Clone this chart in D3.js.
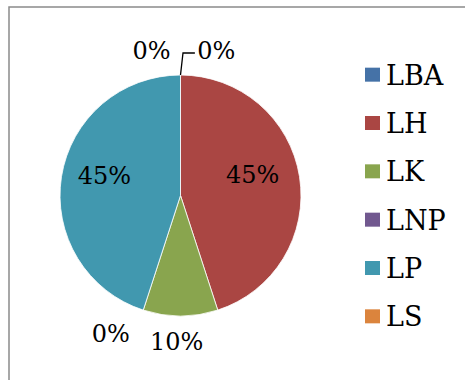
<!DOCTYPE html>
<html>
<head>
<meta charset="utf-8">
<script src="https://cdn.jsdelivr.net/npm/d3@7/dist/d3.min.js"></script>
<style>
  html, body { margin: 0; padding: 0; background: #fff; }
  svg { display: block; }
  svg text { font-family: "DejaVu Serif", serif; }
</style>
</head>
<body>
<svg id="chart" width="465" height="380"></svg>
<script>
// Share of each category (percent)
const categories = ["LBA", "LH", "LK", "LNP", "LP", "LS"];
const values = [0, 45, 10, 0, 45, 0];
const colors = ["#4572A7", "#AA4643", "#89A54E", "#71588F", "#4198AF", "#DB843D"];

// Label placement around the pie: [angle in degrees from 12 o'clock, distance from centre]
const labelPolar = {
  LBA: [13.9, 149.4],
  LH:  [74, 75],
  LK:  [181.5, 146],
  LNP: [206.8, 154.6],
  LP:  [285, 78.7],
  LS:  [348.7, 147.9]
};

const svg = d3.select("#chart");
const cx = 180.5, cy = 195.5, R = 120.5;

// Chart frame (runs past the right and bottom edges)
svg.append("rect")
  .attr("x", 9).attr("y", 7)
  .attr("width", 480).attr("height", 400)
  .attr("fill", "none")
  .attr("stroke", "#8a8a8a")
  .attr("stroke-width", 1.5);

const data = categories.map((c, i) => ({ cat: c, value: values[i], color: colors[i] }));

const pie = d3.pie().sort(null).value(d => d.value).startAngle(0).endAngle(2 * Math.PI);
const arc = d3.arc().innerRadius(0).outerRadius(R);
const arcs = pie(data);

const g = svg.append("g").attr("transform", `translate(${cx},${cy})`);

g.selectAll("path.slice")
  .data(arcs.filter(d => d.data.value > 0))
  .join("path")
  .attr("class", "slice")
  .attr("d", arc)
  .attr("fill", d => d.data.color)
  .attr("stroke", "#ffffff")
  .attr("stroke-width", 0.8);

const fmt = d3.format(".0%");
const total = d3.sum(values);
const labelSize = 24;

function polar(deg, r) {
  const a = deg * Math.PI / 180;
  return [r * Math.sin(a), -r * Math.cos(a)];
}

g.selectAll("text.pct")
  .data(arcs)
  .join("text")
  .attr("class", "pct")
  .attr("x", d => polar(...labelPolar[d.data.cat])[0])
  .attr("y", d => polar(...labelPolar[d.data.cat])[1] + 0.36 * labelSize)
  .attr("text-anchor", "middle")
  .style("font-size", labelSize + "px")
  .attr("fill", "#000")
  .text(d => fmt(d.data.value / total));

// Leader line for the first slice's label
const first = arcs[0];
const edge = polar(first.startAngle * 180 / Math.PI, R);
const lab = polar(...labelPolar[first.data.cat]);
g.append("polyline")
  .attr("points", [
    edge,
    [edge[0] + 2.5, -142.5],
    [lab[0] - 21.5, -142.5]
  ].map(p => p.join(",")).join(" "))
  .attr("fill", "none")
  .attr("stroke", "#000")
  .attr("stroke-width", 1.3);

// Legend
const legendSize = 27;
const legendY = d3.scaleBand().domain(categories).range([50.5, 340.5]);
const legend = svg.append("g");
const items = legend.selectAll("g")
  .data(data)
  .join("g")
  .attr("transform", d => `translate(365,${legendY(d.cat) + legendY.bandwidth() / 2})`);

items.append("rect")
  .attr("x", 0).attr("y", -7)
  .attr("width", 15).attr("height", 14)
  .attr("fill", d => d.color);

items.append("text")
  .attr("x", 21)
  .attr("y", 0.37 * legendSize)
  .style("font-size", legendSize + "px")
  .attr("fill", "#000")
  .text(d => d.cat);
</script>
</body>
</html>
